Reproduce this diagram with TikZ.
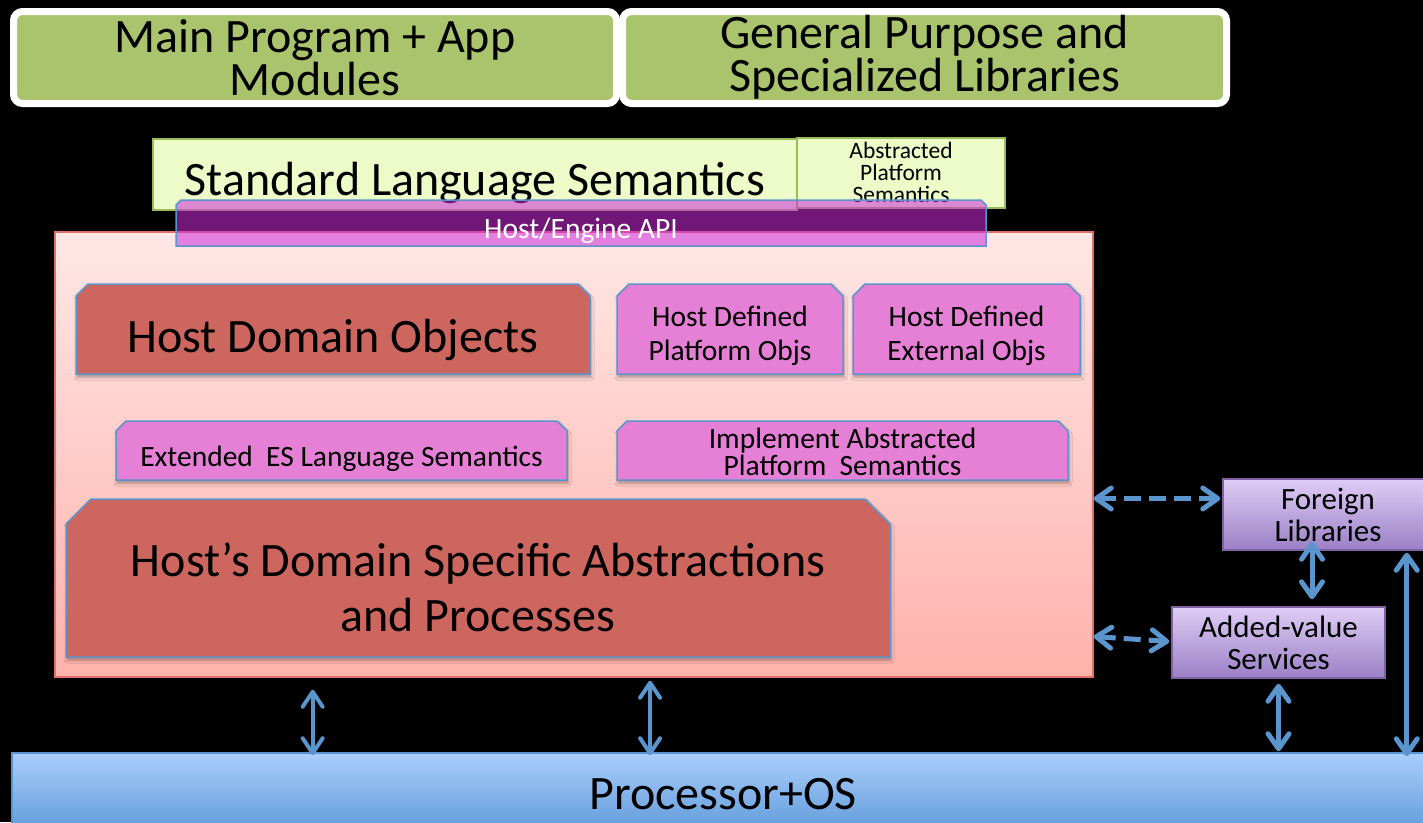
\documentclass[tikz,border=0pt]{standalone}
\usepackage{fontspec}
\setmainfont{Carlito}
\usetikzlibrary{arrows.meta,calc,shadows.blur}

\definecolor{bluel}{RGB}{90,150,205}
\definecolor{greenbox}{RGB}{169,196,108}
\definecolor{slsfill}{RGB}{236,251,200}
\definecolor{slsline}{RGB}{155,187,89}
\definecolor{redbox}{RGB}{205,102,94}
\definecolor{pinkbox}{RGB}{229,128,214}
\definecolor{apifill}{RGB}{205,43,218}
\definecolor{paneltop}{RGB}{255,231,229}
\definecolor{panelbot}{RGB}{255,178,172}
\definecolor{panelline}{RGB}{225,112,106}
\definecolor{purtop}{RGB}{222,205,245}
\definecolor{purbot}{RGB}{155,128,198}
\definecolor{purline}{RGB}{126,98,161}
\definecolor{ostop}{RGB}{170,206,251}
\definecolor{osbot}{RGB}{92,152,216}

\newcommand\fxl{\fontsize{48}{55}\selectfont}
\newcommand\fmd{\fontsize{29.5}{34}\selectfont}
\newcommand\fpur{\fontsize{31}{32}\selectfont}
\newcommand\fsm{\fontsize{23.5}{22}\selectfont}

% box with its two upper corners cut off; text node placed at the centre
% #1 name, #2-#5 corners, #6 cut size, #7 shape style, #8 text options, #9 text
\newcommand\snipbox[9]{%
  \filldraw[#7] (#2,#5) -- (#2,#3+#6) -- (#2+#6,#3) -- (#4-#6,#3) -- (#4,#3+#6) -- (#4,#5) -- cycle;
  \node[inner sep=0pt,align=center,#8] (#1) at ({(#2+#4)/2},{(#3+#5)/2}) {#9};}

\tikzset{
  topbox/.style={fill=greenbox, draw=white, line width=7pt, rounded corners=9pt,
    inner sep=0pt, align=center, font=\fontsize{48}{43}\selectfont},
  lightbox/.style={draw=slsline, line width=1.5pt, fill=slsfill, inner sep=0pt},
  boxshadow/.style={blur shadow={shadow xshift=1pt, shadow yshift=-3pt,
    shadow blur radius=3pt, shadow opacity=35}},
  redshape/.style={fill=redbox, draw=bluel, line width=1.5pt, boxshadow},
  pinkshape/.style={fill=pinkbox, draw=bluel, line width=1.5pt, boxshadow},
  purbox/.style={draw=purline, line width=1.5pt, top color=purtop, bottom color=purbot,
    inner sep=0pt, align=center, font=\fpur},
  twoway/.style={draw=bluel, line width=5pt,
    {Straight Barb[length=15pt,width=21pt,round]}-{Straight Barb[length=15pt,width=21pt,round]}},
  twowaythin/.style={draw=bluel, line width=4pt,
    {Straight Barb[length=15pt,width=20pt,round]}-{Straight Barb[length=15pt,width=20pt,round]}},
  dashway/.style={twoway, dash pattern=on 17pt off 8pt}
}

\begin{document}
\begin{tikzpicture}[x=1pt,y=-1pt]
  \fill[black] (0,0) rectangle (1423,822);
  \useasboundingbox (0,0) rectangle (1423,822);
  \clip (0,0) rectangle (1423,822);

  % application layer
  \node[topbox, minimum width=603pt, minimum height=92pt] (mainprog) at (315,57.5) {Main Program + App\\Modules};
  \node[topbox, minimum width=604pt, minimum height=92pt] (libs) at (924.5,57.5) {General Purpose and\\Specialized Libraries};

  % host panel
  \node[draw=panelline, line width=1.5pt, top color=paneltop, bottom color=panelbot,
        minimum width=1038pt, minimum height=445pt, inner sep=0pt] (panel) at (574,454.5) {};

  % language semantics
  \node[lightbox, minimum width=644pt, minimum height=71pt] (sls) at (475,174.5) {};
  \node[font=\fxl, inner sep=0pt] (slstext) at (475,183) {Standard Language Semantics};
  \node[lightbox, minimum width=208pt, minimum height=70pt] (aps) at (901,173) {};
  \node[font=\fsm, align=center, inner sep=0pt] (apstext) at (901,172) {Abstracted\\Platform\\Semantics};

  % host/engine API bar
  \filldraw[fill=apifill, fill opacity=0.55, draw=bluel, line width=1.5pt]
    (176,246) -- (176,205) -- (181,200) -- (981,200) -- (986,205) -- (986,246) -- cycle;
  \node[font=\fmd, text=white, inner sep=0pt] (api) at (581,231) {Host/Engine API};

  % host components
  \snipbox{hdo}{76}{284}{590}{374}{12}{redshape}{font=\fxl, yshift=-11pt}{Host Domain Objects}
  \snipbox{hdpo}{617}{284}{843}{374}{12}{pinkshape}{font=\fmd, yshift=-7pt}{Host Defined\\Platform Objs}
  \snipbox{hdeo}{853}{284}{1080}{374}{12}{pinkshape}{font=\fmd, yshift=-7pt}{Host Defined\\External Objs}
  \snipbox{eels}{116}{421}{567}{480}{10}{pinkshape}{font=\fmd, yshift=-8pt}{Extended\ \ ES Language Semantics}
  \snipbox{iaps}{617}{421}{1068}{480}{10}{pinkshape}{font=\fontsize{29.5}{27}\selectfont, yshift=-1pt}{Implement Abstracted\\Platform\ \ Semantics}
  \snipbox{hdsa}{66}{499}{890}{657}{25}{redshape}{font=\fxl, yshift=-9pt}{Host’s Domain Specific Abstractions\\and Processes}

  % outside services
  \node[purbox, minimum width=210pt, minimum height=71pt] (foreign) at (1328,514.5) {Foreign\\Libraries};
  \node[purbox, minimum width=213pt, minimum height=71pt] (added) at (1278.5,642.5) {Added-value\\Services};

  % platform
  \node[draw=bluel, line width=1.5pt, top color=ostop, bottom color=osbot,
        minimum width=1422pt, minimum height=83pt, inner sep=0pt, font=\fxl] (proc) at (723,794.5) {Processor+OS};

  % connectors
  \coordinate (fl) at ([yshift=16pt]foreign.west);
  \draw[dashway] (panel.east |- fl) -- ([xshift=-2pt]fl);
  \coordinate (al) at (panel.east |- added.west);
  \draw[dashway] ([yshift=6pt]al) -- ([xshift=-2pt,yshift=1pt]added.west);
  \coordinate (fb) at ([xshift=-16pt,yshift=9pt]foreign.south);
  \draw[twoway] (fb) -- ([yshift=7pt]fb |- added.north);
  \draw[twoway] ([yshift=-5pt]added.south) -- ([yshift=1pt]added.south |- proc.north);
  \coordinate (fr) at ([xshift=-27pt,yshift=-2pt]foreign.south east);
  \draw[twoway] (fr) -- ([yshift=-4pt]fr |- proc.north);
  \coordinate (p1) at ($(panel.south west)!0.2486!(panel.south east)$);
  \coordinate (p2) at ($(panel.south west)!0.5732!(panel.south east)$);
  \draw[twowaythin] ([yshift=-12pt]p1) -- ([yshift=-3pt]p1 |- proc.north);
  \draw[twowaythin] ([yshift=-3pt]p2) -- ([yshift=-3pt]p2 |- proc.north);
\end{tikzpicture}
\end{document}
